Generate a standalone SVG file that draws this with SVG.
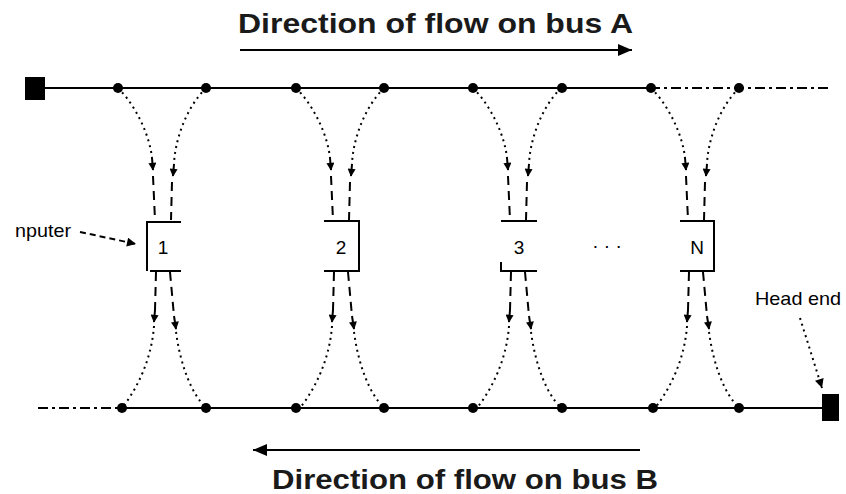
<svg xmlns="http://www.w3.org/2000/svg" width="846" height="494" viewBox="0 0 846 494">
<style>
.bus{stroke:#000;stroke-width:2;fill:none}
.busd{stroke:#000;stroke-width:2;fill:none;stroke-dasharray:10 4 3 4}
.dot{fill:#000}
.dotted{stroke:#000;stroke-width:2;fill:none;stroke-dasharray:2 4}
.dashed{stroke:#000;stroke-width:2;fill:none;stroke-dasharray:9 6}
.box{stroke:#000;stroke-width:2;fill:none}
.lbl{font-family:"Liberation Sans",Arial,sans-serif;font-size:19px;fill:#000}
.small{font-family:"Liberation Sans",Arial,sans-serif;font-size:19px;fill:#000}
.title{font-family:"Liberation Sans",Arial,sans-serif;font-size:27px;font-weight:bold;fill:#1a1a1a}
.arr{stroke:#000;stroke-width:2;fill:none}
</style>
<defs>
<marker id="ah" viewBox="0 0 10 10" refX="9" refY="5" markerWidth="10" markerHeight="8" orient="auto" markerUnits="userSpaceOnUse">
<path d="M0,0 L10,5 L0,10 z" fill="#000"/>
</marker>
<marker id="bigah" viewBox="0 0 14 12" refX="14" refY="6" markerWidth="14" markerHeight="12" orient="auto" markerUnits="userSpaceOnUse">
<path d="M0,0 L14,6 L0,12 z" fill="#000"/>
</marker>
<marker id="sah" viewBox="0 0 10 10" refX="10" refY="5" markerWidth="10" markerHeight="9" orient="auto" markerUnits="userSpaceOnUse">
<path d="M0,0 L10,5 L0,10 z" fill="#000"/>
</marker>
<g id="col">
<path class="dotted" d="M118,88 C138,108 150,138 152,158"/>
<path class="arr" d="M152,158 L153,170" marker-end="url(#ah)"/>
<path class="dashed" d="M153,176 L155,220"/>
<path class="dotted" d="M206,88 C186,108 175,140 174,164"/>
<path class="arr" d="M174,164 L173,176" marker-end="url(#ah)"/>
<path class="dashed" d="M172,182 L171,220"/>
<path class="dashed" d="M156,272 L155,310"/>
<path class="arr" d="M155,310 L154,322" marker-end="url(#ah)"/>
<path class="dotted" d="M154,326 C152,355 140,385 122,408"/>
<path class="dashed" d="M170,272 L174,316"/>
<path class="arr" d="M174,316 L176,329" marker-end="url(#ah)"/>
<path class="dotted" d="M176,332 C180,362 190,392 206,408"/>
</g>
</defs>

<g id="connectors">
<line class="bus" x1="45" y1="88" x2="650" y2="88"/>
<line class="busd" x1="650" y1="88" x2="830" y2="88"/>
<line class="busd" x1="38" y1="408" x2="115" y2="408"/>
<line class="bus" x1="115" y1="408" x2="822" y2="408"/>
<use href="#col"/>
<use href="#col" transform="translate(178,0)"/>
<use href="#col" transform="translate(355,0)"/>
<use href="#col" transform="translate(533,0)"/>
<path class="dashed" d="M80,232 L136,244" marker-end="url(#sah)" style="stroke-dasharray:6 4"/>
<path class="dotted" d="M800,318 L822,388" marker-end="url(#sah)"/>
<line class="arr" x1="240" y1="50" x2="632" y2="50" marker-end="url(#bigah)"/>
<line class="arr" x1="640" y1="450" x2="253" y2="450" marker-end="url(#bigah)"/>
</g>

<g id="endpoints">
<rect x="25" y="77" width="20" height="23" fill="#000"/>
<rect x="822" y="394" width="17" height="27" fill="#000"/>
</g>

<g id="taps">
<circle class="dot" cx="118" cy="88" r="5"/>
<circle class="dot" cx="206" cy="88" r="5"/>
<circle class="dot" cx="296" cy="88" r="5"/>
<circle class="dot" cx="384" cy="88" r="5"/>
<circle class="dot" cx="473" cy="88" r="5"/>
<circle class="dot" cx="562" cy="88" r="5"/>
<circle class="dot" cx="651" cy="88" r="5"/>
<circle class="dot" cx="739" cy="88" r="5"/>
<circle class="dot" cx="122" cy="408" r="5"/>
<circle class="dot" cx="206" cy="408" r="5"/>
<circle class="dot" cx="296" cy="408" r="5"/>
<circle class="dot" cx="384" cy="408" r="5"/>
<circle class="dot" cx="473" cy="408" r="5"/>
<circle class="dot" cx="562" cy="408" r="5"/>
<circle class="dot" cx="653" cy="408" r="5"/>
<circle class="dot" cx="739" cy="408" r="5"/>
</g>

<g id="node1">
<path class="box" d="M181,222 L147,222 L147,271 M150,271 L181,271"/>
<text class="lbl" x="163" y="254" text-anchor="middle">1</text>
</g>
<g id="node2">
<path class="box" d="M324,221 L359,221 L359,271 L324,271"/>
<text class="lbl" x="341" y="254" text-anchor="middle">2</text>
</g>
<g id="node3">
<path class="box" d="M501,221 L537,221 M501,262 L501,271 L537,271"/>
<text class="lbl" x="519" y="254" text-anchor="middle">3</text>
</g>
<g id="nodeN">
<path class="box" d="M680,221 L714,221 L714,271 L680,271"/>
<text class="lbl" x="697" y="254" text-anchor="middle">N</text>
</g>

<g id="labels">
<text class="lbl" x="607" y="252" text-anchor="middle">· · ·</text>
<text class="small" x="15" y="237" textLength="56" lengthAdjust="spacingAndGlyphs">nputer</text>
<text class="small" x="755" y="305" textLength="86" lengthAdjust="spacingAndGlyphs">Head end</text>
<text class="title" x="238" y="33" textLength="395" lengthAdjust="spacingAndGlyphs">Direction of flow on bus A</text>
<text class="title" x="272" y="489" textLength="386" lengthAdjust="spacingAndGlyphs">Direction of flow on bus B</text>
</g>
</svg>
